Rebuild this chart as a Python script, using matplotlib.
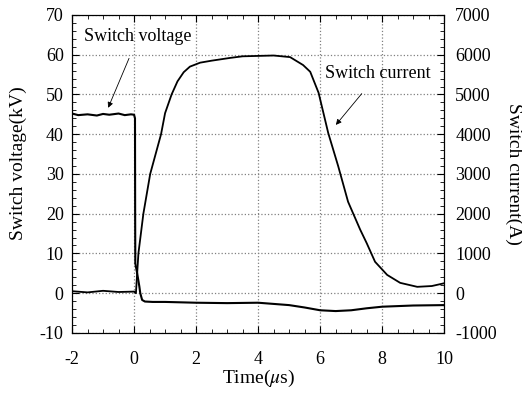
import matplotlib.pyplot as plt
from matplotlib.ticker import MultipleLocator

plt.rcParams['font.family'] = ['Liberation Serif', 'DejaVu Serif']
plt.rcParams['mathtext.fontset'] = 'stix'
plt.rcParams['axes.unicode_minus'] = False

# switch voltage (kV)
volt_t = [-2.0, -1.8, -1.5, -1.2, -1.0, -0.8, -0.5, -0.3, -0.1, 0.0, 0.03, 0.035,
          0.04, 0.1, 0.17, 0.2, 0.26, 0.35, 0.6, 1.0, 2.0, 3.0, 4.0,
          5.0, 5.5, 6.0, 6.5, 7.0, 7.5, 8.0, 9.0, 10.0]
volt_kv = [45.2, 44.8, 45.0, 44.7, 45.1, 44.9, 45.2, 44.8, 45.0, 44.9, 44.0, 20.0,
           7.5, 5.0, 1.7, 0.0, -1.7, -2.1, -2.2, -2.2, -2.4, -2.5, -2.4,
           -3.0, -3.6, -4.3, -4.5, -4.3, -3.8, -3.4, -3.1, -3.0]

# switch current (A)
curr_t = [-2.0, -1.5, -1.0, -0.5, 0.0, 0.06, 0.14, 0.30, 0.52, 0.87, 1.0, 1.21,
          1.4, 1.6, 1.8, 2.13, 2.5, 3.1, 3.5, 4.0, 4.5, 5.03, 5.45, 5.68, 5.95,
          6.26, 6.58, 6.9, 7.29, 7.5, 7.77, 8.16, 8.58, 9.13, 9.6, 10.0]
curr_a = [50, 20, 60, 30, 40, 0, 1000, 2000, 3000, 4000, 4530, 5000,
          5330, 5560, 5700, 5800, 5850, 5920, 5960, 5970, 5980, 5940, 5740, 5570, 5040,
          4030, 3200, 2300, 1600, 1260, 790, 460, 260, 160, 180, 250]

fig, ax = plt.subplots(figsize=(5.22, 3.94), dpi=100)
fig.subplots_adjust(left=0.138, right=0.851, top=0.962, bottom=0.155)

ax.plot(volt_t, volt_kv, color='black', lw=1.5)
ax.set_xlim(-2, 10)
ax.set_ylim(-10, 70)
ax.xaxis.set_major_locator(MultipleLocator(2))
ax.xaxis.set_minor_locator(MultipleLocator(0.5))
ax.yaxis.set_major_locator(MultipleLocator(10))
ax.yaxis.set_minor_locator(MultipleLocator(2))
ax.grid(True, which='major', color='gray', ls=':', lw=0.9)
ax.tick_params(which='both', direction='in', top=True, labelsize=13)
ax.tick_params(which='major', length=5)
ax.tick_params(which='minor', length=3)
ax.tick_params(axis='x', pad=13)
ax.tick_params(axis='y', pad=6)
ax.set_xlabel('Time($\\mu$s)', fontsize=14, labelpad=0)
ax.set_ylabel('Switch voltage(kV)', fontsize=14)
ax.yaxis.set_label_coords(-0.122, 0.535)

ax2 = ax.twinx()
ax2.plot(curr_t, curr_a, color='black', lw=1.3)
ax2.set_ylim(-1000, 7000)
ax2.yaxis.set_major_locator(MultipleLocator(1000))
ax2.yaxis.set_minor_locator(MultipleLocator(200))
ax2.tick_params(which='both', direction='in', labelsize=13, pad=8)
ax2.tick_params(which='major', length=5)
ax2.tick_params(which='minor', length=3)
ax2.set_ylabel('Switch current(A)', fontsize=14, rotation=-90, labelpad=18)

ax.annotate('Switch voltage', xy=(-0.87, 46), xytext=(0.13, 64.5),
            fontsize=13, ha='center', va='center',
            arrowprops=dict(arrowstyle='-|>', color='black', lw=0.6,
                            mutation_scale=8, shrinkA=8))
ax.annotate('Switch current', xy=(6.45, 41.8), xytext=(7.87, 55.2),
            fontsize=13, ha='center', va='center',
            arrowprops=dict(arrowstyle='-|>', color='black', lw=0.6,
                            mutation_scale=8, shrinkA=8))

fig.savefig('out.png', dpi=100)
